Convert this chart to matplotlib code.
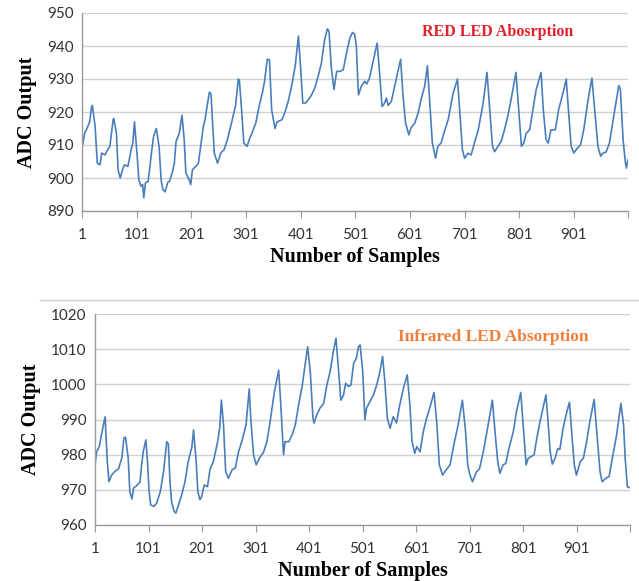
import matplotlib
matplotlib.use("Agg")
import matplotlib.pyplot as plt
from matplotlib.lines import Line2D

# 红光 LED 采样（读图得到的折点）
red_x = [2, 6, 10, 15, 18, 20, 25, 29, 34, 37, 43, 46, 52, 55, 58, 59, 64, 67, 71, 76,
         79, 85, 91, 94, 97, 102, 105, 109, 112, 114, 117, 122, 125, 128, 132, 137, 142, 146, 149, 153,
         158, 161, 166, 170, 173, 179, 184, 188, 191, 197, 200, 203, 209, 214, 219, 223, 226, 234, 237, 240,
         243, 246, 249, 255, 261, 267, 276, 282, 287, 289, 293, 297, 303, 307, 313, 319, 325, 331, 335, 340,
         344, 348, 354, 358, 367, 373, 379, 385, 391, 397, 400, 405, 410, 415, 421, 427, 433, 439, 445, 450,
         453, 457, 462, 467, 473, 479, 485, 491, 496, 500, 503, 506, 507, 512, 518, 522, 527, 533, 541, 546,
         550, 554, 558, 561, 567, 573, 579, 584, 588, 593, 599, 603, 610, 616, 622, 628, 633, 637, 642, 648,
         652, 658, 665, 671, 680, 688, 692, 697, 701, 707, 713, 719, 726, 735, 742, 747, 752, 756, 762, 768,
         774, 780, 786, 795, 800, 805, 809, 814, 820, 826, 832, 841, 845, 850, 854, 859, 867, 873, 881, 887,
         891, 896, 901, 907, 913, 919, 927, 934, 939, 945, 950, 954, 960, 966, 972, 977, 983, 986, 991, 995,
         997, 1000]
red_y = [910, 913.6, 915, 917, 921, 922, 915.6, 904.5, 904, 907.6, 907, 908, 909.6, 913.6, 917.7, 918, 913.6, 902.5, 900, 903,
         904, 903.5, 908.6, 910.6, 917, 906.6, 899.5, 897.5, 898, 894, 898.5, 899, 903, 907.6, 912.6, 915, 909.6, 899, 896.5, 895.8,
         898.7, 899, 901.5, 904.5, 911, 913.6, 919, 911.6, 901.5, 899.5, 898, 902.5, 903.5, 904.5, 910.6, 915.6, 917.7, 926, 925.5, 916.7,
         907.6, 906, 904.5, 907.6, 908.6, 911.6, 917.7, 922, 930, 929.5, 920.7, 910.6, 909.6, 911.6, 914, 916.7, 921.7, 925.8, 929.3, 936,
         935.8, 920.7, 915, 917, 917.7, 920.2, 923.7, 928.3, 933.8, 943, 935.9, 922.7, 922.7, 923.7, 925.2, 927.3, 930.8, 934.8, 941.9, 945.2,
         944.5, 933.8, 926.8, 932.3, 932.3, 932.8, 937.9, 942.4, 944.1, 943.5, 939.9, 927.8, 925.2, 927.8, 929.3, 928.5, 930.3, 934.8, 940.9, 930.8,
         921.7, 922.5, 924.2, 922, 923.2, 927.8, 932.3, 936, 925.7, 916.7, 913.1, 915.2, 916.7, 919.7, 924.2, 927.8, 934, 923.7, 910.6, 906,
         909.6, 910.6, 914.6, 917.7, 925.7, 930, 920.7, 908.6, 906, 907.5, 907, 910.6, 914.6, 922.7, 932, 920.7, 909.6, 908, 909.6, 911.1,
         914.6, 918.7, 923.7, 932, 920.7, 909.6, 910.5, 913.6, 914.6, 920.7, 926.8, 932, 920.7, 911.6, 910.6, 914.6, 914.6, 920.7, 925.7, 930,
         920.7, 909.6, 907.6, 909, 910, 914.6, 923.7, 930.3, 920.7, 909.6, 906.6, 907.5, 907.9, 910.6, 916.7, 921.7, 928, 927, 911.6, 905,
         903, 905.5]

# 红外 LED 采样
ir_x = [1, 4, 9, 13, 16, 20, 21, 24, 27, 32, 38, 45, 51, 55, 58, 63, 66, 70, 73, 79,
        85, 88, 91, 96, 99, 102, 105, 111, 116, 123, 129, 135, 138, 141, 144, 149, 152, 157, 163, 169,
        175, 182, 185, 190, 193, 197, 200, 205, 211, 216, 222, 230, 234, 237, 241, 245, 250, 257, 263, 269,
        275, 283, 289, 292, 297, 302, 308, 316, 322, 328, 336, 344, 348, 353, 356, 363, 369, 375, 381, 388,
        398, 403, 408, 410, 415, 421, 428, 434, 440, 446, 451, 456, 460, 465, 469, 474, 479, 484, 489, 493,
        496, 501, 505, 508, 514, 521, 527, 533, 538, 542, 547, 552, 558, 564, 570, 577, 584, 589, 593, 598,
        602, 608, 614, 620, 626, 634, 639, 644, 650, 657, 664, 671, 679, 687, 693, 697, 701, 706, 713, 719,
        726, 734, 743, 748, 753, 757, 763, 768, 774, 782, 788, 796, 800, 806, 810, 816, 821, 826, 832, 843,
        846, 851, 855, 860, 865, 869, 875, 882, 887, 891, 896, 900, 907, 913, 919, 925, 933, 938, 944, 948,
        955, 961, 967, 975, 983, 988, 991, 995, 1000]
ir_y = [977.1, 980.8, 982.3, 985.6, 988, 990.8, 987, 978, 972.3, 974.2, 975.2, 976, 979, 984.7, 985, 979, 969.5, 967.4, 970.5, 971.2,
        972.3, 977, 980.8, 984.2, 978, 969.5, 965.7, 965.3, 966.2, 969.5, 975.2, 983.7, 983, 972.3, 966.6, 963.8, 963.4, 965.7, 968.6, 972.3,
        978, 982.3, 987, 978, 969.5, 967.2, 968, 971.4, 970.9, 976, 978, 983.7, 987.7, 995.5, 988.4, 975.2, 973.3, 975.7, 976.2, 980.8,
        983.7, 988.4, 998.7, 990, 980, 977.1, 979, 980.8, 983.7, 989.4, 997.9, 1004, 994, 980, 983.7, 983.7, 985.6, 988.4, 994, 999.7,
        1010.7, 1003.6, 990.4, 989, 991.3, 993.2, 994.6, 999.8, 1003.6, 1009.3, 1013.1, 1003.6, 995.5, 996.9, 1000.3, 999.4, 999.8, 1006, 1007.4, 1010.7,
        1011.2, 1003.6, 989.9, 993.2, 995, 997, 999.8, 1003.6, 1007.9, 1001.2, 990.3, 987.5, 990.8, 989, 994.1, 998.9, 1002.7, 994.1, 983.7, 980.4,
        982.3, 980.8, 986.5, 990.3, 993.2, 997.7, 989.4, 977.1, 974.2, 975.7, 977.1, 982.8, 988.4, 995.5, 986.5, 977.1, 974.2, 972.3, 975, 976,
        980.8, 987.5, 995.5, 986.5, 978, 974.7, 977.1, 977.5, 981.8, 986.5, 992.2, 997.7, 989.4, 977.1, 979, 979.5, 980, 984.7, 989.4, 997,
        991.3, 980.8, 977.3, 979, 981.7, 981.5, 987.5, 992.2, 994.9, 986.5, 977.1, 974.2, 978, 979, 983.7, 989.4, 995.7, 986.5, 975.2, 972.3,
        973.3, 973.8, 979, 985.6, 994.6, 988.4, 979, 970.9, 970.6]

x_ticks = [1, 101, 201, 301, 401, 501, 601, 701, 801, 901, 1000]
x_tick_labels = ['1', '101', '201', '301', '401', '501', '601', '701', '801', '901', '']
red_yticks = [890, 900, 910, 920, 930, 940, 950]
ir_yticks = [960, 970, 980, 990, 1000, 1010, 1020]

line_color = '#4a7ebb'
serif = 'Liberation Serif'
sans = 'Lato'

fig = plt.figure(figsize=(6.39, 5.81), dpi=100)

def style_axes(ax, yticks):
    ax.set_xlim(1, 1000)
    ax.set_ylim(yticks[0], yticks[-1])
    ax.set_yticks(yticks)
    ax.set_xticks(x_ticks)
    ax.set_xticklabels(x_tick_labels)
    ax.yaxis.grid(True, color='#d0d0d0', linewidth=1.0)
    ax.set_axisbelow(True)
    for s in ['top', 'right']:
        ax.spines[s].set_visible(False)
    for s in ['left', 'bottom']:
        ax.spines[s].set_color('#9a9a9a')
        ax.spines[s].set_linewidth(1.0)
    ax.tick_params(axis='y', length=0, pad=6, labelsize=11, labelcolor='#333333')
    ax.tick_params(axis='x', length=5, direction='out', color='#9a9a9a', pad=7,
                   labelsize=11, labelcolor='#333333')
    for lab in ax.get_xticklabels() + ax.get_yticklabels():
        lab.set_fontfamily(sans)
    ax.set_ylabel('ADC Output', fontfamily=serif, fontweight='bold', fontsize=14.5, labelpad=7)
    ax.set_xlabel('Number of Samples', fontfamily=serif, fontweight='bold', fontsize=14.5, labelpad=4)

# 上图：红光
ax1 = fig.add_axes([82/639, 1 - 211/581, 546/639, 198/581])
ax1.plot(red_x, red_y, color=line_color, linewidth=1.2)
style_axes(ax1, red_yticks)
ax1.text(0.762, 0.902, 'RED LED Abosrption', transform=ax1.transAxes, ha='center', va='center',
         fontfamily=serif, fontweight='bold', fontsize=11.5, color='#e3202b')

# 下图：红外
ax2 = fig.add_axes([95/639, 1 - 525/581, 535/639, 211/581])
ax2.plot(ir_x, ir_y, color=line_color, linewidth=1.2)
style_axes(ax2, ir_yticks)
ax2.text(0.745, 0.892, 'Infrared LED Absorption', transform=ax2.transAxes, ha='center', va='center',
         fontfamily=serif, fontweight='bold', fontsize=12.5, color='#f07e3a')

# 下方图表区的上边框
fig.add_artist(Line2D([40/639, 1.0], [1 - 300/581, 1 - 300/581], transform=fig.transFigure,
                      color='#d0d0d0', linewidth=1.0))

fig.savefig('out.png', dpi=100)
